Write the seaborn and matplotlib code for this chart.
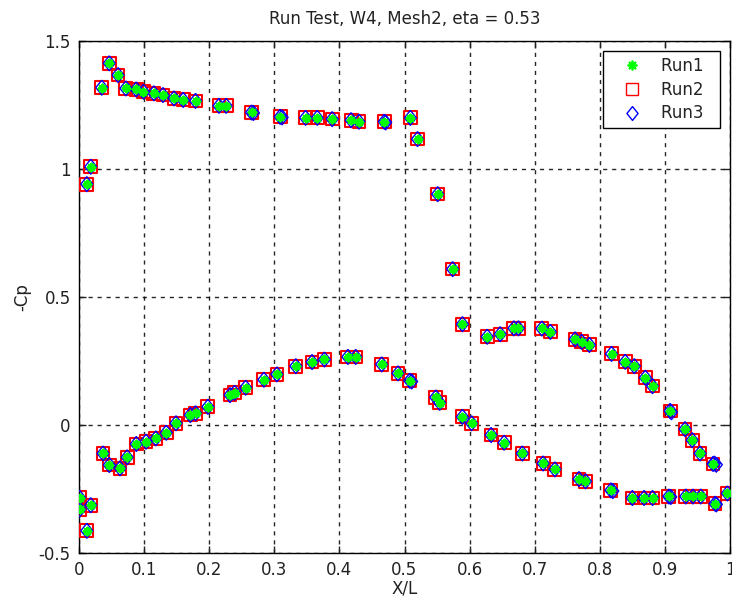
import matplotlib
matplotlib.use("Agg")
import matplotlib.pyplot as plt
import seaborn as sns
import pandas as pd
from matplotlib.lines import Line2D

# ---------------- data ----------------
x_upper = [0.012, 0.018, 0.035, 0.0465, 0.060, 0.072, 0.088, 0.099, 0.115, 0.129,
           0.146, 0.160, 0.179, 0.215, 0.226, 0.265, 0.309, 0.348, 0.366, 0.389,
           0.418, 0.430, 0.469, 0.509, 0.520, 0.551, 0.574, 0.589, 0.627, 0.647,
           0.668, 0.675, 0.711, 0.724, 0.762, 0.772, 0.784, 0.818, 0.839, 0.853,
           0.870, 0.881, 0.908, 0.931, 0.942, 0.954, 0.974, 0.996]
cp_upper = [0.941, 1.009, 1.318, 1.413, 1.367, 1.315, 1.311, 1.302, 1.296, 1.289,
            1.276, 1.270, 1.266, 1.247, 1.247, 1.221, 1.204, 1.200, 1.200, 1.195,
            1.191, 1.185, 1.185, 1.200, 1.117, 0.902, 0.609, 0.394, 0.345, 0.355,
            0.378, 0.378, 0.377, 0.364, 0.335, 0.325, 0.313, 0.278, 0.247, 0.230,
            0.185, 0.152, 0.055, -0.016, -0.059, -0.111, -0.152, -0.267]

x_lower = [0.001, 0.001, 0.012, 0.018, 0.037, 0.0465, 0.063, 0.074, 0.088, 0.103,
           0.118, 0.134, 0.149, 0.171, 0.179, 0.198, 0.232, 0.239, 0.256, 0.284,
           0.304, 0.333, 0.358, 0.377, 0.413, 0.425, 0.465, 0.490, 0.508, 0.548,
           0.554, 0.589, 0.603, 0.633, 0.653, 0.681, 0.713, 0.731, 0.768, 0.778,
           0.817, 0.850, 0.868, 0.881, 0.906, 0.932, 0.943, 0.955, 0.977]
cp_lower = [-0.284, -0.330, -0.413, -0.313, -0.111, -0.156, -0.169, -0.126, -0.074, -0.065,
            -0.052, -0.030, 0.007, 0.039, 0.046, 0.071, 0.117, 0.126, 0.146, 0.177,
            0.198, 0.230, 0.246, 0.256, 0.266, 0.266, 0.237, 0.202, 0.173, 0.108,
            0.087, 0.032, 0.007, -0.039, -0.069, -0.111, -0.150, -0.173, -0.211, -0.220,
            -0.255, -0.285, -0.285, -0.285, -0.279, -0.279, -0.279, -0.279, -0.307]

# Run1 and Run2 coincide with the points above; Run3 differs slightly at a few taps
run3_x_extra = [0.268, 0.312, 0.471, 0.511, 0.820, 0.910, 0.909, 0.979, 0.979, 0.976]
run3_cp_extra = [1.219, 1.202, 1.182, 0.170, -0.258, 0.050, -0.281, -0.155, -0.310, -0.150]

x_ticks = [0, 0.1, 0.2, 0.3, 0.4, 0.5, 0.6, 0.7, 0.8, 0.9, 1]
x_tick_labels = ["0", "0.1", "0.2", "0.3", "0.4", "0.5", "0.6", "0.7", "0.8", "0.9", "1"]
y_ticks = [-0.5, 0, 0.5, 1, 1.5]
y_tick_labels = ["-0.5", "0", "0.5", "1", "1.5"]

run_names = ["Run1", "Run2", "Run3"]

# ---------------- build tables ----------------
base = pd.DataFrame({"x": x_upper + x_lower, "cp": cp_upper + cp_lower})
run1 = base.copy()
run2 = base.copy()
run3 = pd.concat([base, pd.DataFrame({"x": run3_x_extra, "cp": run3_cp_extra})],
                 ignore_index=True)

# ---------------- style ----------------
sns.set_theme(style="white")
plt.rcParams["font.family"] = ["DejaVu Sans"]
plt.rcParams["font.size"] = 12

fig = plt.figure(figsize=(7.32, 6.10), dpi=100)
fig.patch.set_facecolor("white")
ax = fig.add_axes([79 / 732, 57 / 610, 651 / 732, 512 / 610])
ax.set_facecolor("white")

green = (0.0, 1.0, 0.0)
diamond = [(0, 1), (0.8, 0), (0, -1), (-0.8, 0), (0, 1)]

sns.scatterplot(data=run2, x="x", y="cp", ax=ax, marker="s", s=85,
                facecolors="none", edgecolor="red", linewidth=1.5, zorder=3,
                legend=False)
sns.scatterplot(data=run3, x="x", y="cp", ax=ax, marker=diamond, s=115,
                facecolors="none", edgecolor="blue", linewidth=1.0, zorder=4,
                legend=False)
sns.scatterplot(data=run1, x="x", y="cp", ax=ax, marker=(8, 2, 0), s=30,
                color=green, linewidth=1.6, zorder=5, legend=False)

ax.set_xlim(0, 1)
ax.set_ylim(-0.5, 1.5)
ax.set_xticks(x_ticks)
ax.set_xticklabels(x_tick_labels)
ax.set_yticks(y_ticks)
ax.set_yticklabels(y_tick_labels)

ax.grid(True, color="black", linestyle=(0, (3, 3.5)), linewidth=1.0, alpha=0.85)
ax.set_axisbelow(True)
for sp in ax.spines.values():
    sp.set_visible(True)
    sp.set_color("black")
    sp.set_linewidth(1.0)
ax.tick_params(direction="in", length=5, width=1, top=True, right=True,
               bottom=True, left=True, colors="#222222", labelsize=12)
ax.tick_params(axis="x", pad=6)
ax.tick_params(axis="y", pad=6)

ax.set_title("Run Test, W4, Mesh2, eta = 0.53", fontsize=12, pad=12, color="#222222")
ax.set_xlabel("X/L", fontsize=12, labelpad=0, color="#222222")
ax.set_ylabel("-Cp", fontsize=12, labelpad=5, color="#222222")

handles = [
    Line2D([], [], linestyle="none", marker=(8, 2, 0), markersize=7,
           markeredgecolor=green, markerfacecolor=green, markeredgewidth=1.3),
    Line2D([], [], linestyle="none", marker="s", markersize=8,
           markeredgecolor="red", markerfacecolor="none", markeredgewidth=1.0),
    Line2D([], [], linestyle="none", marker=diamond, markersize=10,
           markeredgecolor="blue", markerfacecolor="none", markeredgewidth=1.0),
]
leg = ax.legend(handles, [n + "  " for n in run_names], loc="upper right",
                fancybox=False, framealpha=1, edgecolor="black", fontsize=12,
                borderaxespad=0.6, handlelength=2.8, handletextpad=0.35,
                labelspacing=0.35, borderpad=0.35)
leg.get_frame().set_linewidth(1.0)
for t in leg.get_texts():
    t.set_color("#222222")

fig.savefig("out.png", dpi=100, facecolor="white")
